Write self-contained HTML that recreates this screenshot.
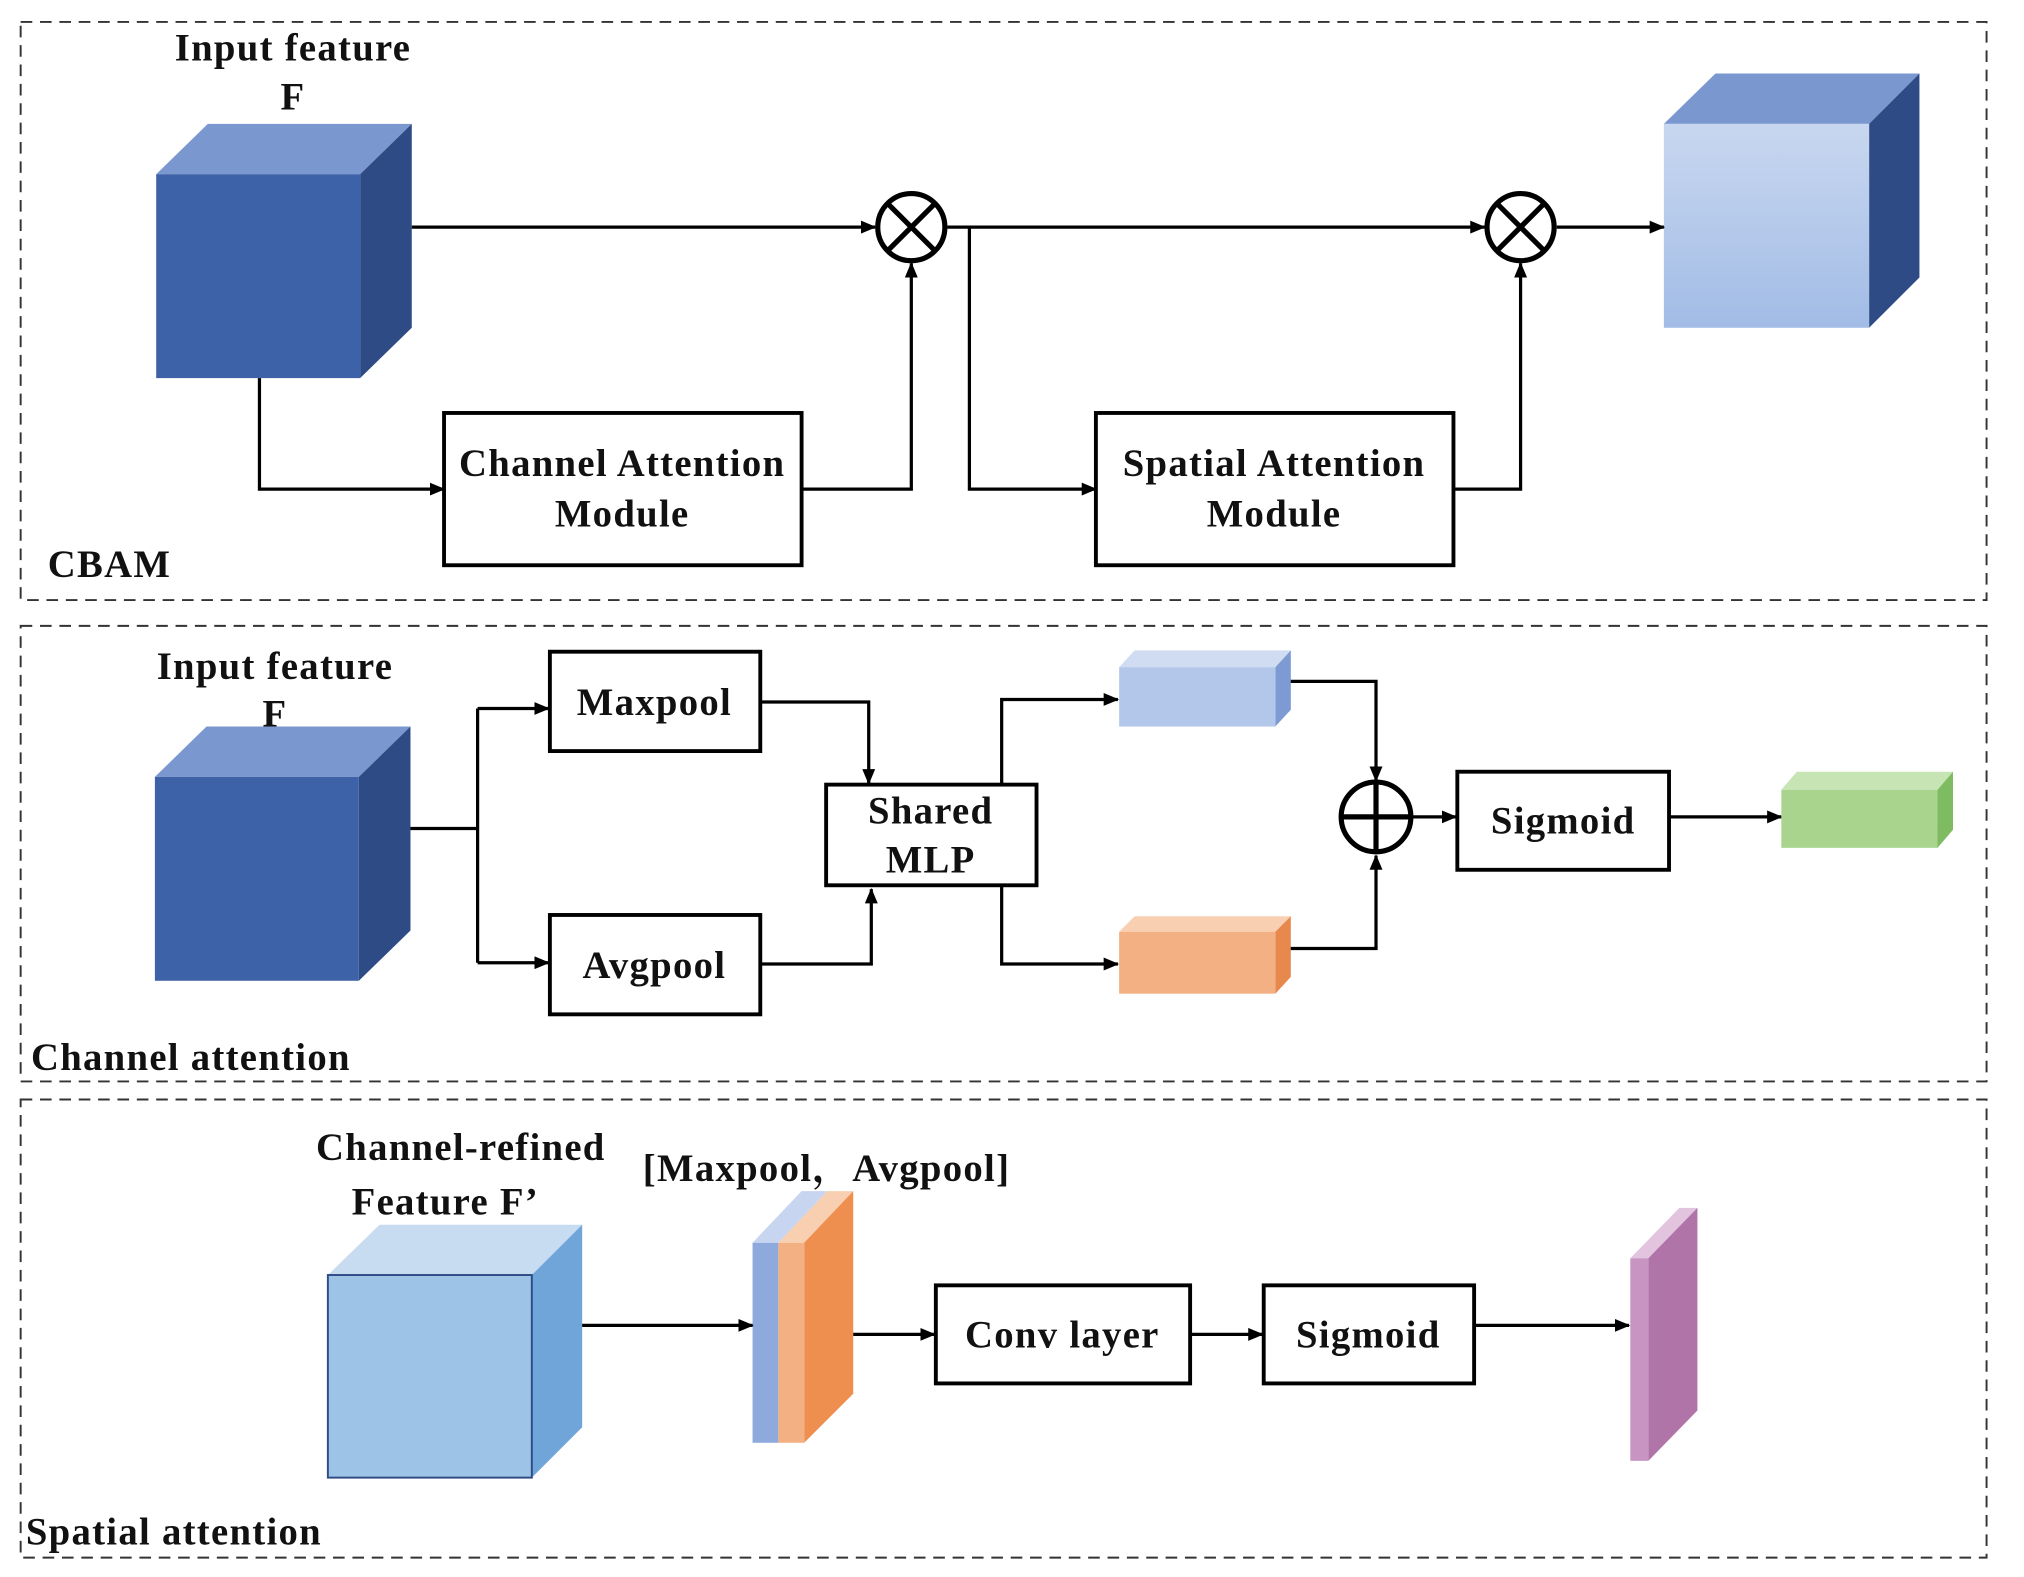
<!DOCTYPE html>
<html><head><meta charset="utf-8"><style>
html,body{margin:0;padding:0;background:#fff;}
svg{display:block;}
text{font-family:"Liberation Serif","Noto Serif CJK SC",serif;font-weight:bold;fill:#111;letter-spacing:1px;}
</style></head><body>
<svg width="2024" height="1577" viewBox="0 0 1568 1222" preserveAspectRatio="none" xmlns="http://www.w3.org/2000/svg">
<defs>
<marker id="a" markerWidth="12" markerHeight="10" refX="11" refY="5" orient="auto" markerUnits="userSpaceOnUse"><path d="M0,0 L12,5 L0,10 z" fill="#000"/></marker>
<linearGradient id="g1" x1="0" y1="0" x2="0" y2="1"><stop offset="0" stop-color="#c8d7ef"/><stop offset="1" stop-color="#a2bce6"/></linearGradient>
</defs>
<g fill="none" stroke="#333" stroke-width="1.5" stroke-dasharray="9,6">
<rect x="16" y="17" width="1523" height="448"/>
<rect x="16" y="485" width="1523" height="353"/>
<rect x="16" y="852" width="1523" height="355"/>
</g>

<!-- Panel 1 -->
<text x="227" y="47" font-size="30" text-anchor="middle">Input feature</text>
<text x="227" y="85" font-size="30" text-anchor="middle">F</text>
<polygon points="121,135 161,96 319,96 279,135" fill="#7a97cf"/>
<polygon points="279,135 319,96 319,254 279,293" fill="#2e4b85"/>
<rect x="121" y="135" width="158" height="158" fill="#3d62a8"/>

<polygon points="1289,96 1329,57 1487,57 1448,96" fill="#7a97cf"/>
<polygon points="1448,96 1487,57 1487,215 1448,254" fill="#2e4b85"/>
<rect x="1289" y="96" width="159" height="158" fill="url(#g1)"/>

<g stroke="#000" stroke-width="2.5" fill="none">
<line x1="319" y1="176" x2="678" y2="176" marker-end="url(#a)"/>
<line x1="734" y1="176" x2="1150" y2="176" marker-end="url(#a)"/>
<line x1="1206" y1="176" x2="1289" y2="176" marker-end="url(#a)"/>
<polyline points="201,293 201,379 344,379" marker-end="url(#a)"/>
<polyline points="621,379 706,379 706,204" marker-end="url(#a)"/>
<polyline points="751,176 751,379 849,379" marker-end="url(#a)"/>
<polyline points="1126,379 1178,379 1178,204" marker-end="url(#a)"/>
</g>
<g stroke="#000" stroke-width="4" fill="#fff">
<circle cx="706" cy="176" r="26"/>
<circle cx="1178" cy="176" r="26"/>
</g>
<g stroke="#000" stroke-width="4">
<line x1="688" y1="158" x2="724" y2="194"/><line x1="724" y1="158" x2="688" y2="194"/>
<line x1="1160" y1="158" x2="1196" y2="194"/><line x1="1196" y1="158" x2="1160" y2="194"/>
</g>
<rect x="344" y="320" width="277" height="118" fill="#fff" stroke="#000" stroke-width="3"/>
<text x="482" y="369" font-size="30" text-anchor="middle">Channel Attention</text>
<text x="482" y="408" font-size="30" text-anchor="middle">Module</text>
<rect x="849" y="320" width="277" height="118" fill="#fff" stroke="#000" stroke-width="3"/>
<text x="987" y="369" font-size="30" text-anchor="middle">Spatial Attention</text>
<text x="987" y="408" font-size="30" text-anchor="middle">Module</text>
<text x="37" y="447" font-size="30">CBAM</text>

<!-- Panel 2 -->
<polygon points="120,602 160,563 318,563 278,602" fill="#7a97cf"/>
<polygon points="278,602 318,563 318,721 278,760" fill="#2e4b85"/>
<rect x="120" y="602" width="158" height="158" fill="#3d62a8"/>
<text x="213" y="526" font-size="30" text-anchor="middle">Input feature</text>
<text x="213" y="563" font-size="30" text-anchor="middle">F</text>

<g stroke="#000" stroke-width="2.5" fill="none">
<line x1="318" y1="642" x2="370" y2="642"/>
<line x1="370" y1="549" x2="370" y2="746"/>
<line x1="370" y1="549" x2="425" y2="549" marker-end="url(#a)"/>
<line x1="370" y1="746" x2="425" y2="746" marker-end="url(#a)"/>
<polyline points="589,544 673,544 673,607" marker-end="url(#a)"/>
<polyline points="589,747 675,747 675,689" marker-end="url(#a)"/>
<polyline points="776,608 776,542 866,542" marker-end="url(#a)"/>
<polyline points="776,686 776,747 866,747" marker-end="url(#a)"/>
<polyline points="999,528 1066,528 1066,605" marker-end="url(#a)"/>
<polyline points="999,735 1066,735 1066,663" marker-end="url(#a)"/>
<line x1="1094" y1="633" x2="1128" y2="633" marker-end="url(#a)"/>
<line x1="1293" y1="633" x2="1380" y2="633" marker-end="url(#a)"/>
</g>
<g fill="#fff" stroke="#000" stroke-width="3">
<rect x="426" y="505" width="163" height="77"/>
<rect x="426" y="709" width="163" height="77"/>
<rect x="640" y="608" width="163" height="78"/>
<rect x="1129" y="598" width="164" height="76"/>
</g>
<text x="507" y="554" font-size="30" text-anchor="middle">Maxpool</text>
<text x="507" y="758" font-size="30" text-anchor="middle">Avgpool</text>
<text x="721" y="638" font-size="30" text-anchor="middle">Shared</text>
<text x="721" y="676" font-size="30" text-anchor="middle">MLP</text>
<text x="1211" y="646" font-size="30" text-anchor="middle">Sigmoid</text>
<circle cx="1066" cy="633" r="27" fill="#fff" stroke="#000" stroke-width="4"/>
<g stroke="#000" stroke-width="4"><line x1="1039" y1="633" x2="1093" y2="633"/><line x1="1066" y1="606" x2="1066" y2="660"/></g>

<polygon points="867,517 879,504 1000,504 988,517" fill="#d0dcf2"/>
<polygon points="988,517 1000,504 1000,550 988,563" fill="#7d9ad3"/>
<rect x="867" y="517" width="121" height="46" fill="#b3c7ea"/>
<polygon points="867,722 879,710 1000,710 988,722" fill="#f8cfb0"/>
<polygon points="988,722 1000,710 1000,757 988,770" fill="#e7894d"/>
<rect x="867" y="722" width="121" height="48" fill="#f3b083"/>
<polygon points="1380,612 1392,598 1513,598 1501,612" fill="#c7e4b5"/>
<polygon points="1501,612 1513,598 1513,643 1501,657" fill="#7fbb60"/>
<rect x="1380" y="612" width="121" height="45" fill="#a8d48e"/>
<text x="24" y="829" font-size="30">Channel attention</text>

<!-- Panel 3 -->
<text x="357" y="899" font-size="30" text-anchor="middle">Channel-refined</text>
<text x="345" y="941" font-size="30" text-anchor="middle">Feature F’</text>
<text x="498" y="915" font-size="30">[Maxpool，Avgpool]</text>
<polygon points="254,988 294,949 451,949 412,988" fill="#c7dcf1"/>
<polygon points="412,988 451,949 451,1106 412,1145" fill="#6fa5d9"/>
<rect x="254" y="988" width="158" height="157" fill="#9dc3e6" stroke="#2e4b85" stroke-width="1.5"/>

<polygon points="583,963 621,923 641,923 603,963" fill="#c7d5f0"/>
<rect x="583" y="963" width="20" height="155" fill="#8eaadc"/>
<polygon points="603,963 641,923 661,923 623,963" fill="#f8cfb0"/>
<polygon points="623,963 661,923 661,1080 623,1118" fill="#ef8f4f"/>
<rect x="603" y="963" width="20" height="155" fill="#f3b083"/>

<polygon points="1263,975 1301,936 1315,936 1277,975" fill="#e2c4de"/>
<polygon points="1277,975 1315,936 1315,1093 1277,1132" fill="#b074a8"/>
<rect x="1263" y="975" width="14" height="157" fill="#c894c2"/>

<g stroke="#000" stroke-width="2.5" fill="none">
<line x1="451" y1="1027" x2="583" y2="1027" marker-end="url(#a)"/>
<line x1="661" y1="1034" x2="724" y2="1034" marker-end="url(#a)"/>
<line x1="922" y1="1034" x2="978" y2="1034" marker-end="url(#a)"/>
<line x1="1142" y1="1027" x2="1262" y2="1027" marker-end="url(#a)"/>
</g>
<g fill="#fff" stroke="#000" stroke-width="3">
<rect x="725" y="996" width="197" height="76"/>
<rect x="979" y="996" width="163" height="76"/>
</g>
<text x="823" y="1044" font-size="30" text-anchor="middle">Conv layer</text>
<text x="1060" y="1044" font-size="30" text-anchor="middle">Sigmoid</text>
<text x="20" y="1197" font-size="30">Spatial attention</text>
</svg>
</body></html>
